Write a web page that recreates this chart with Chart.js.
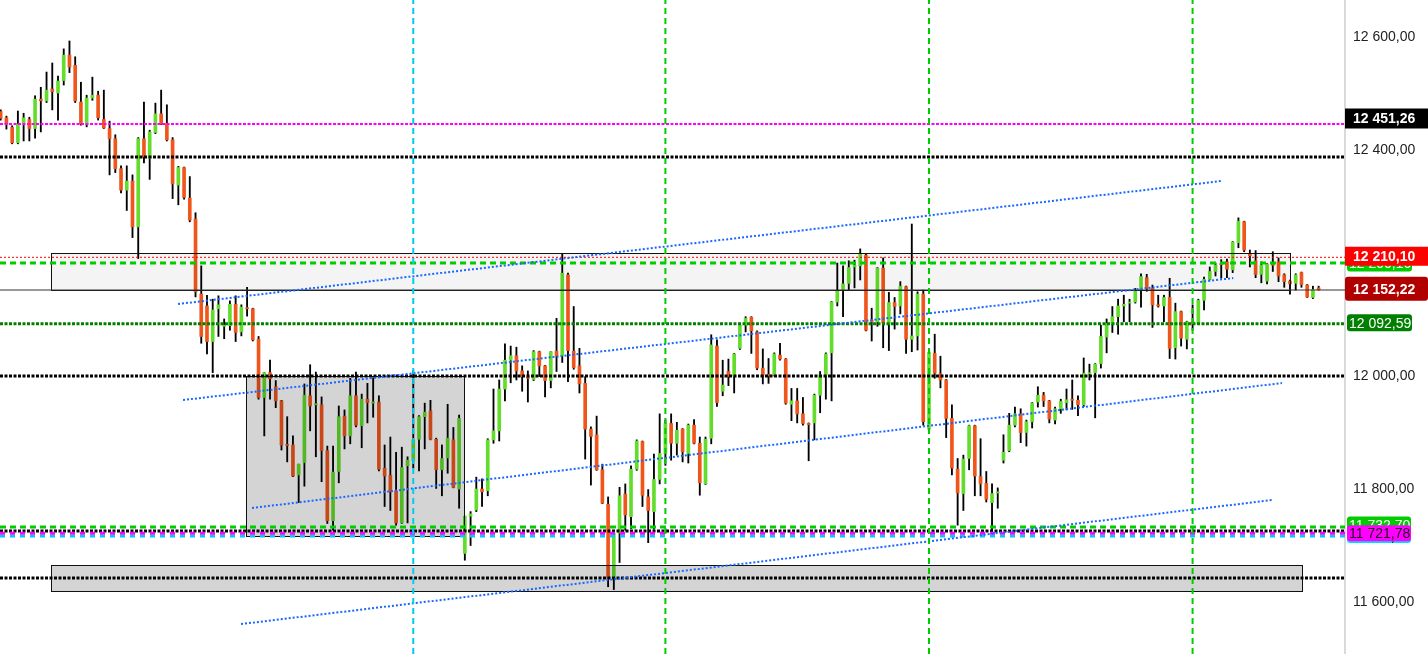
<!DOCTYPE html>
<html><head><meta charset="utf-8">
<script src="https://cdn.jsdelivr.net/npm/chart.js@4.4.0/dist/chart.umd.min.js"></script>
<style>html,body{margin:0;padding:0;background:#fff;overflow:hidden}canvas{display:block}</style>
</head><body>
<canvas id="c" width="1428" height="654"></canvas>
<script>
// ---------- DATA ----------
const openP = [12468,12457,12440,12413,12448,12454,12438,12490,12487,12508,12501,12523,12568,12550,12485,12447,12492,12497,12454,12438,
12420,12367,12329,12345,12264,12420,12385,12431,12464,12447,12418,12338,12369,12315,12278,12145,12124,12061,12119,12088,
12089,12127,12078,12121,12119,12065,11962,12006,11981,11956,11879,11878,11825,11847,11965,11949,11949,11868,11744,11831,
11929,11894,11965,11912,11959,11952,11954,11837,11824,11797,11740,11841,11850,11888,11928,11938,11888,11834,11855,11887,
11800,11686,11752,11763,11800,11797,11887,11903,11977,12028,12036,12009,11998,11994,12043,12018,11992,12044,12036,12179,
12044,12018,11987,11906,11896,11834,11773,11642,11722,11791,11751,11835,11884,11786,11760,11817,11863,11916,11881,11906,
11863,11913,11881,11809,11890,12053,11973,12008,12000,12049,12090,12104,12078,12014,12003,12002,12037,12030,11950,11956,
11933,11916,11917,11966,12002,12041,12131,12151,12164,12193,12195,12214,12099,12096,12191,12092,12130,12124,12158,12065,
12071,12145,11906,12040,12004,11993,11925,11835,11792,11854,11912,11822,11810,11776,11793,11851,11868,11913,11933,11900,
11919,11954,11966,11956,11922,11942,11953,11959,11957,11949,12004,12006,12022,12069,12093,12105,12124,12129,12131,12153,
12174,12155,12126,12124,12139,12050,12114,12065,12096,12093,12134,12171,12185,12199,12202,12188,12236,12273,12217,12204,
12180,12168,12199,12202,12179,12168,12164,12183,12161,12139,12156];
const highP = [12471,12460,12443,12469,12465,12458,12496,12511,12538,12554,12531,12579,12593,12565,12520,12497,12529,12504,12506,12451,
12427,12372,12372,12356,12422,12485,12435,12483,12506,12480,12422,12371,12370,12353,12289,12195,12143,12136,12142,12101,
12133,12142,12126,12157,12120,12070,12006,12028,11992,11957,11928,11894,11844,11986,12020,12007,11963,11876,11876,11947,
11940,11996,12007,11968,11987,11997,11965,11878,11892,11865,11874,11857,12009,11930,11952,11957,11890,11878,11950,11909,
11931,11752,11760,11821,11818,11889,11977,11993,12057,12053,12051,12018,12009,12045,12044,12019,12043,12102,12217,12182,
12123,12049,11999,11910,11929,11844,11786,11727,11803,11809,11841,11887,11885,11799,11862,11933,11922,11933,11918,11907,
11915,11923,11892,11892,12073,12064,12028,12030,12040,12093,12105,12105,12080,12048,12031,12041,12058,12031,11978,11978,
11962,11917,11968,12008,12041,12132,12200,12195,12204,12205,12225,12216,12120,12192,12209,12148,12139,12167,12159,12269,
12149,12152,12046,12074,12035,11994,11949,11854,11860,11913,11913,11889,11831,11809,11802,11896,11934,11945,11942,11922,
11953,11981,11971,11957,11945,11959,11977,11993,11965,12032,12021,12022,12090,12101,12123,12136,12143,12136,12155,12181,
12180,12161,12143,12143,12173,12129,12115,12097,12126,12136,12175,12193,12200,12206,12207,12238,12280,12274,12223,12222,
12202,12199,12220,12209,12181,12170,12181,12184,12162,12159,12159];
const lowP = [12453,12437,12411,12411,12416,12416,12421,12432,12484,12471,12453,12515,12537,12484,12444,12441,12488,12453,12438,12356,
12360,12324,12293,12245,12208,12377,12348,12429,12445,12416,12314,12303,12313,12273,12140,12058,12039,12006,12070,12066,
12081,12061,12071,12106,12062,11959,11894,11959,11944,11869,11848,11822,11776,11805,11903,11857,11813,11739,11727,11811,
11871,11880,11910,11873,11917,11927,11832,11769,11762,11736,11739,11740,11837,11832,11871,11887,11801,11788,11828,11802,
11766,11674,11700,11760,11769,11788,11881,11885,11956,11988,11993,11973,11954,11992,11999,11963,11979,12008,12024,11990,
12012,11970,11853,11807,11833,11774,11627,11622,11670,11727,11730,11833,11769,11705,11729,11809,11842,11851,11860,11848,
11846,11880,11789,11808,11880,11946,11965,11983,11970,12047,12078,12040,12011,11986,11987,12000,12028,11950,11921,11917,
11913,11850,11887,11935,11959,11956,12124,12105,12152,12156,12170,12080,12062,12088,12050,12045,12083,12110,12040,12043,
12046,11913,11904,11996,11979,11891,11825,11736,11762,11834,11788,11788,11777,11727,11766,11846,11866,11910,11882,11876,
11908,11945,11946,11917,11915,11934,11940,11941,11930,11946,11993,11926,12014,12041,12077,12074,12096,12096,12129,12122,
12150,12086,12122,12096,12031,12030,12053,12048,12081,12092,12117,12170,12177,12173,12174,12183,12227,12220,12193,12174,
12165,12163,12185,12167,12157,12145,12152,12157,12139,12137,12152];
const closeP = [12456,12446,12413,12446,12457,12438,12490,12487,12506,12503,12522,12568,12547,12487,12446,12492,12497,12457,12439,12420,
12367,12329,12345,12264,12420,12388,12432,12464,12446,12418,12340,12369,12316,12276,12149,12070,12061,12117,12126,12090,
12127,12077,12122,12119,12064,11962,12006,11995,11956,11878,11877,11823,11844,11966,11947,11951,11868,11744,11830,11928,
11894,11965,11913,11959,11953,11954,11835,11823,11795,11740,11838,11851,11887,11928,11936,11888,11834,11854,11890,11803,
11925,11752,11756,11800,11795,11887,11903,11977,12028,12036,12009,11999,11996,12043,12018,11992,12043,12036,12182,12045,
12015,11986,11906,11893,11834,11775,11642,11722,11788,11754,11835,11885,11789,11762,11817,11863,11916,11881,11904,11866,
11913,11881,11811,11888,12055,11953,11984,11999,12039,12090,12102,12080,12014,12002,12000,12039,12030,11952,11956,11933,
11916,11914,11966,12002,12039,12131,12151,12163,12192,12196,12217,12081,12096,12191,12094,12130,12123,12159,12065,12071,
12145,11919,12042,12005,11993,11925,11837,11793,11853,11912,11823,11809,11782,11792,11795,11865,11913,11933,11900,11919,
11952,11966,11956,11924,11942,11955,11958,11957,11949,12005,12006,12021,12070,12093,12105,12124,12127,12131,12152,12176,
12155,12126,12124,12139,12049,12114,12067,12096,12092,12134,12171,12185,12196,12197,12189,12237,12274,12223,12213,12180,
12196,12198,12196,12177,12167,12163,12179,12162,12140,12153,12153];

const yTickValues = [11600, 11800, 12000, 12400, 12600];
const hLevels = [12446, 12387.6, 12210.1, 12200.16, 12152.22, 12092.59, 12000, 11732.7, 11725.6, 11716.8, 11721.78, 11642.5];
const vLineIdx = [72, 116, 162, 208];
const channelA = [30.94, 12127.4, 212.97, 12345.1];
const channelB = [31.82, 11957.5, 215.1, 12173.4];
const channelC = [43.86, 11766.4, 223.6, 11987.6];
const channelD = [41.94, 11561, 221.9, 11780.5];
const boxUpper = [8.8, 225.0, 12217.2, 12152.2];
const boxMiddle = [42.8, 80.86, 12000, 11717];
const boxLower = [8.8, 227.1, 11665.5, 11619.4];
const tagValues = [12200.16, 12210.10, 12451.26, 12152.22, 12092.59, 11732.7, 11716.8, 11721.78];

// ---------- STYLE ----------
const X_MIN = -0.122, X_MAX = 234.6, Y_MIN = 11508, Y_MAX = 12665.5;
const GREEN = '#62dd2b', ORANGE = '#f0561b';
const hStyles = [
  ['#ff00ff', 2, [3, 1.5]],
  ['#000000', 3, [3, 1.5]],
  ['#ff0000', 1, [2, 2]],
  ['#00cc00', 3, [6, 4]],
  ['#333333', 1, []],
  ['#008000', 3, [3, 1.5]],
  ['#000000', 3, [3, 1.5]],
  ['#00cc00', 3, [6, 4]],
  ['#000000', 3, [3, 1.5]],
  ['#00ccee', 3, [5, 5]],
  ['#ff00ff', 3, [5, 5]],
  ['#000000', 3, [3, 1.5]]
];
const vStyles = [['#00ccee', 2, [6, 4]], ['#00cc00', 2, [6, 4]], ['#00cc00', 2, [6, 4]], ['#00cc00', 2, [6, 4]]];
const tagStyles = [
  {bg:'#00cc00', fg:'#fff', x0:1347, x1:1412, h:17, dy:0, r:3, bold:false, tx:1349},
  {bg:'#ff0000', fg:'#fff', x0:1345, x1:1428, h:19, dy:-1, r:0, bold:true, tx:1353},
  {bg:'#000000', fg:'#fff', x0:1345, x1:1428, h:20, dy:-2.5, r:0, bold:true, tx:1353},
  {bg:'#b00000', fg:'#fff', x0:1345, x1:1428, h:24, dy:-1.3, r:3, bold:true, tx:1353},
  {bg:'#008000', fg:'#fff', x0:1347, x1:1412, h:17, dy:-1, r:3, bold:false, tx:1349},
  {bg:'#00cc00', fg:'#fff', x0:1347, x1:1411, h:17, dy:-2, r:3, bold:false, tx:1349},
  {bg:'#00ddff', fg:'#000', x0:1347, x1:1411, h:14, dy:0, r:3, bold:false, tx:1349},
  {bg:'#ff00ff', fg:'#200020', x0:1347, x1:1411, h:16, dy:0, r:3, bold:false, tx:1349}
];

function fmt(v) {
  const s = v.toFixed(2).split('.');
  return s[0].replace(/\B(?=(\d{3})+(?!\d))/g, ' ') + ',' + s[1];
}

const idx = openP.map((_, i) => i);
const wickData = idx.map(i => ({x: i, y: [lowP[i], highP[i]]}));
const bodyData = idx.map(i => {
  let a = Math.min(openP[i], closeP[i]), b = Math.max(openP[i], closeP[i]);
  if (b - a < 1.8) { const m = (a + b) / 2; a = m - 0.9; b = m + 0.9; }
  return {x: i, y: [a, b]};
});
const bodyColors = idx.map(i => closeP[i] >= openP[i] ? GREEN : ORANGE);

const lineSets = [];
hLevels.forEach((v, k) => lineSets.push({pts: [{x: X_MIN, y: v}, {x: X_MAX, y: v}], st: hStyles[k]}));
[channelA, channelB, channelC, channelD].forEach(c => lineSets.push({pts: [{x: c[0], y: c[1]}, {x: c[2], y: c[3]}], st: ['#1a66ff', 2, [2, 2]]}));
vLineIdx.forEach((c, k) => lineSets.push({pts: [{x: c, y: Y_MIN}, {x: c, y: Y_MAX}], st: vStyles[k]}));

const datasets = [
  {type: 'bar', data: wickData, backgroundColor: '#000', barThickness: 1.2, grouped: false, order: 3, borderWidth: 0},
  {type: 'bar', data: bodyData, backgroundColor: bodyColors, barThickness: 3, grouped: false, order: 2, borderWidth: 0}
];
lineSets.forEach((l, k) => datasets.push({
  type: 'line', data: l.pts, borderColor: l.st[0], borderWidth: l.st[1], borderDash: l.st[2],
  pointRadius: 0, fill: false, tension: 0, order: 1 - k * 0.01, clip: 0
}));

const boxPlugin = {
  id: 'boxes',
  afterDatasetDraw(chart, args) {
    if (args.index !== 1) return;
    const {ctx, scales: {x, y}} = chart;
    const list = [[boxUpper, 'rgba(0,0,0,0.045)'], [boxMiddle, 'rgba(0,0,0,0.17)'], [boxLower, 'rgba(0,0,0,0.17)']];
    ctx.save();
    list.forEach(([b, fill]) => {
      const x0 = Math.round(x.getPixelForValue(b[0])) + 0.5, x1 = Math.round(x.getPixelForValue(b[1])) + 0.5;
      const y0 = Math.round(y.getPixelForValue(b[2])) + 0.5, y1 = Math.round(y.getPixelForValue(b[3])) + 0.5;
      ctx.fillStyle = fill;
      ctx.fillRect(x0, y0, x1 - x0, y1 - y0);
      ctx.strokeStyle = '#111';
      ctx.lineWidth = 1;
      ctx.strokeRect(x0, y0, x1 - x0, y1 - y0);
    });
    ctx.restore();
  },
  afterDraw(chart) {
    const {ctx, scales: {y}} = chart;
    ctx.save();
    tagValues.forEach((v, k) => {
      const s = tagStyles[k];
      const cy = y.getPixelForValue(v) + s.dy;
      ctx.fillStyle = s.bg;
      ctx.beginPath();
      if (ctx.roundRect) ctx.roundRect(s.x0, cy - s.h / 2, s.x1 - s.x0, s.h, s.r);
      else ctx.rect(s.x0, cy - s.h / 2, s.x1 - s.x0, s.h);
      ctx.fill();
      ctx.fillStyle = s.fg;
      ctx.font = (s.bold ? 'bold ' : '') + "14px 'Liberation Sans', Arial, sans-serif";
      ctx.textBaseline = 'middle';
      ctx.textAlign = 'left';
      ctx.fillText(fmt(v), s.tx, cy + 1);
    });
    ctx.restore();
  }
};

Chart.defaults.font.family = "'Liberation Sans', Arial, sans-serif";
Chart.defaults.font.size = 14;

new Chart(document.getElementById('c'), {
  type: 'bar',
  data: {datasets},
  options: {
    responsive: false, animation: false, devicePixelRatio: 1, events: [],
    layout: {padding: 0},
    plugins: {legend: {display: false}, tooltip: {enabled: false}},
    scales: {
      x: {type: 'linear', display: false, min: X_MIN, max: X_MAX, offset: false, grid: {display: false}},
      y: {
        type: 'linear', position: 'right', min: Y_MIN, max: Y_MAX, beginAtZero: false,
        grid: {display: false, drawTicks: false},
        border: {display: true, color: '#dadada', width: 2},
        ticks: {color: '#222', padding: 8, font: {size: 14}, callback: v => fmt(v)},
        afterBuildTicks: s => { s.ticks = yTickValues.map(v => ({value: v})); },
        afterFit: s => { s.width = 83; s.paddingTop = 0; s.paddingBottom = 0; }
      }
    }
  },
  plugins: [boxPlugin]
});
</script>
</body></html>
